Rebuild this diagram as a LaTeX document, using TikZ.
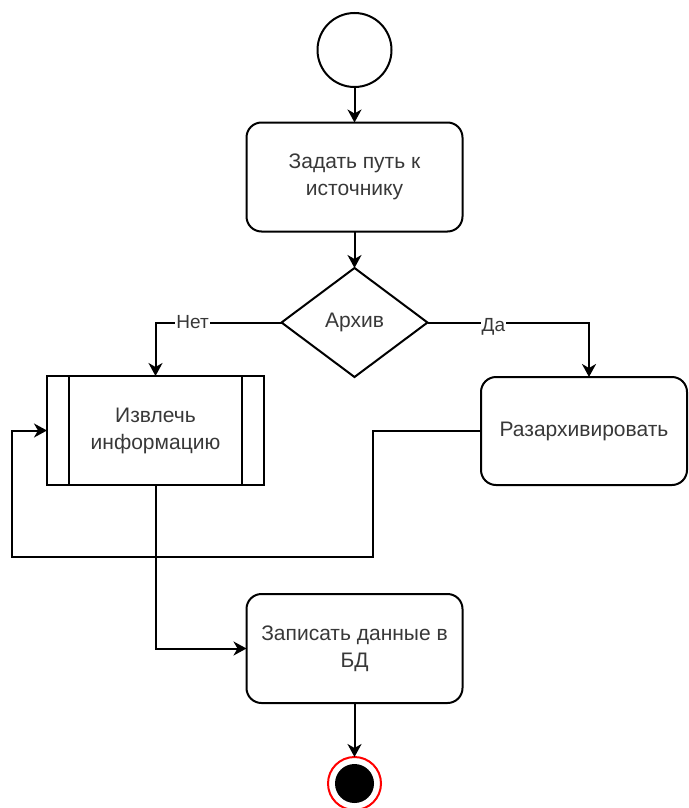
\documentclass[tikz,border=0pt]{standalone}
\usepackage{fontspec}
\setmainfont{Liberation Sans}
\usetikzlibrary{shapes.geometric,arrows.meta}
\begin{document}
\begin{tikzpicture}[x=1pt,y=-1pt,
  every node/.style={inner sep=0pt, outer sep=0pt,
    font=\fontsize{21}{27}\selectfont, text=black!78},
  lw/.style={line width=2pt},
  act/.style={lw, draw, rounded corners=15pt, minimum width=216pt,
    minimum height=109pt, align=center},
  proc/.style={lw, draw, minimum width=217pt, minimum height=109pt, align=center},
  choice/.style={lw, draw, diamond, minimum width=146pt, minimum height=109pt},
  flow/.style={lw, -{Stealth[length=13pt,width=14pt,inset=4pt]}},
  edgelbl/.style={fill=white, inner sep=1pt, font=\fontsize{19}{22}\selectfont}
]
\clip (0,0) rectangle (688,808);

% nodes
\node[lw, draw, circle, minimum size=74pt] (start) at (354.5,50) {};
\node[act] (path) at (354.5,177) {Задать путь к\\источнику};
\node[choice] (arch) at (354.5,322.5) {Архив};
\node[proc] (extract) at (155.5,430.5) {Извлечь\\информацию};
\node[act, minimum width=206pt, minimum height=108pt] (unzip) at (584,431) {Разархивировать};
\node[act] (store) at (354.5,648.5) {Записать данные в\\БД};
\node[lw, draw=red, circle, minimum size=53pt, fill=white] (fin) at (354.5,783.5) {};
\fill[black] (fin.center) circle (19.5pt);

% side bars of the subprocess box
\draw[lw] ([xshift=22pt]extract.north west) -- ([xshift=22pt]extract.south west);
\draw[lw] ([xshift=-22pt]extract.north east) -- ([xshift=-22pt]extract.south east);

% loop-back corners
\coordinate (loopA) at (373,557);
\coordinate (loopB) at (12,557);

% connectors
\draw[flow] (start) -- (path);
\draw[flow] (path) -- (arch);
\draw[flow] (arch.west) -| node[edgelbl, pos=0.353] {Нет} (extract.north);
\draw[flow] (arch.east) -| node[edgelbl, pos=0.204, yshift=-4pt] {Да} ([xshift=5pt]unzip.north);
\draw[flow] (unzip.west) -| (loopA) -- (loopB) |- (extract.west);
\draw[flow] (extract.south) |- (store.west);
\draw[flow] (store) -- (fin);
\end{tikzpicture}
\end{document}
